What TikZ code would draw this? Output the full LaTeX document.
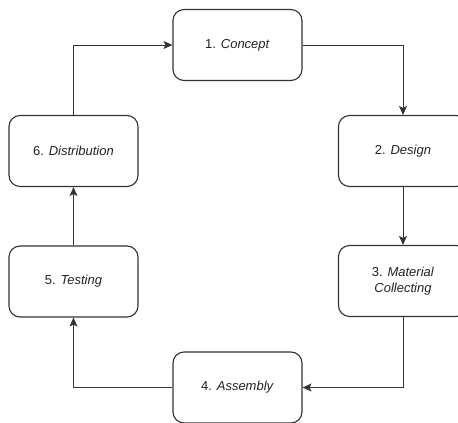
\documentclass[tikz,border=0pt]{standalone}
\usepackage{fontspec}
\setmainfont{Liberation Sans}
\usepackage{tikz}
\usetikzlibrary{arrows.meta}

\definecolor{lineGrey}{HTML}{333333}
\definecolor{textGrey}{HTML}{222222}

\begin{document}
\begin{tikzpicture}[x=1pt,y=-1pt,
  stage/.style={rectangle,draw=lineGrey,line width=1.1pt,rounded corners=11pt,
    minimum width=129pt,minimum height=71pt,align=center,text=textGrey,
    font=\fontsize{13}{16}\selectfont},
  flow/.style={draw=lineGrey,line width=0.9pt,-{Stealth[length=9pt,width=8pt,inset=2pt]}}]
\useasboundingbox (0,0) rectangle (458,423);
% the six stages
\node[stage] (concept) at (237.5,45) {1. \textit{Concept}};
\node[stage] (design) at (403,151) {2. \textit{Design}};
\node[stage] (material) at (403,281) {3. \textit{Material}\\\textit{Collecting}};
\node[stage] (assembly) at (237.5,387.5) {4. \textit{Assembly}};
\node[stage] (testing) at (73.5,281.5) {5. \textit{Testing}};
\node[stage] (distribution) at (73.5,151) {6. \textit{Distribution}};
% the cycle
\draw[flow] (concept.east) -| (design.north);
\draw[flow] (design) -- (material);
\draw[flow] (material.south) |- (assembly.east);
\draw[flow] (assembly.west) -| (testing.south);
\draw[flow] (testing) -- (distribution);
\draw[flow] (distribution.north) |- (concept.west);
\end{tikzpicture}
\end{document}
